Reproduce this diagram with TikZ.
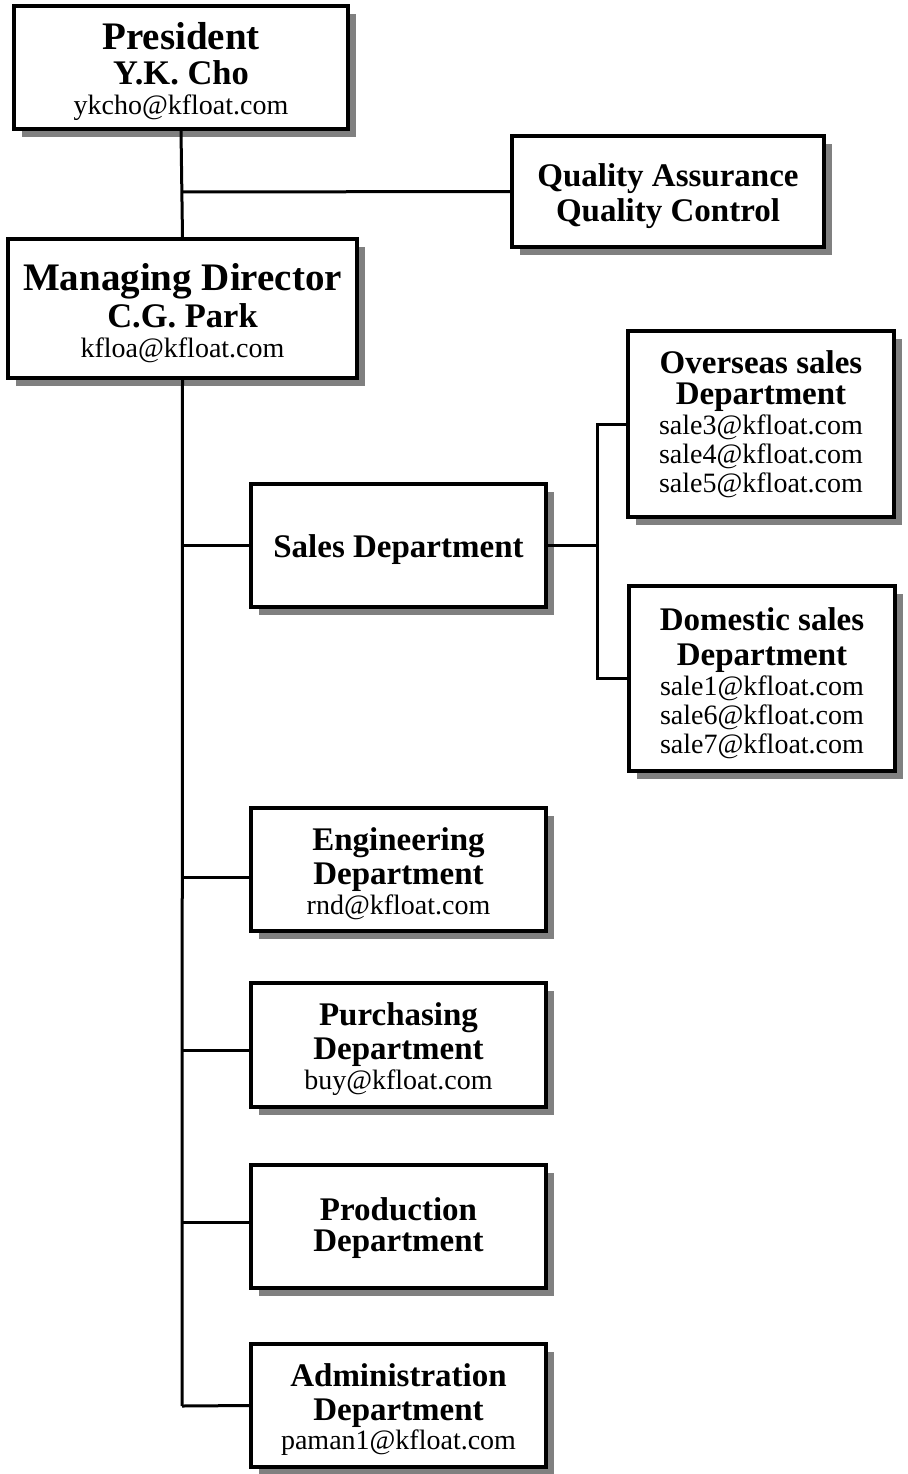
\documentclass[tikz,border=0pt]{standalone}
\usepackage{fontspec}
\setmainfont{Liberation Serif}
\usetikzlibrary{shadows}
\definecolor{shadowgray}{HTML}{808080}
\newcommand\fbig{\fontsize{39}{30}\selectfont\bfseries}
\newcommand\fmid{\fontsize{34.5}{30}\selectfont\bfseries}
\newcommand\ftitle{\fontsize{33}{30}\selectfont\bfseries}
\newcommand\fmail{\fontsize{28}{30}\selectfont\mdseries}
\newcommand\boxfont{\fontsize{28}{30}\selectfont}
% extra top padding: shifts the text block down by half the given amount
\newcommand\padtop[1][10pt]{\rule{0pt}{\dimexpr\fontcharht\font`\d+#1\relax}}
\lineskiplimit=-100pt
\lineskip=0pt
\begin{document}
\lineskiplimit=-100pt
\lineskip=0pt
\begin{tikzpicture}[x=1pt,y=-1pt,
  box/.style={draw, line width=3.5pt, fill=white, align=center, inner sep=0pt,
    font=\boxfont,
    general shadow={fill=shadowgray, shadow xshift=8pt, shadow yshift=-8pt}},
  link/.style={line width=3pt}]
\useasboundingbox (0,0) rectangle (907,1474);
\fill[white] (0,0) rectangle (907,1474);
\node[box, minimum width=334pt, minimum height=123pt] (pres) at (181,67.5)
  {\fbig\padtop President\\[5pt]\fmid Y.K. Cho\\\fmail ykcho@kfloat.com};
\node[box, minimum width=312pt, minimum height=111pt] (qa) at (668,191.5)
  {\ftitle\padtop Quality Assurance\\[5pt]\ftitle Quality Control};
\node[box, minimum width=349pt, minimum height=139pt] (md) at (182.5,308.5)
  {\fbig\padtop Managing Director\\[7pt]\fmid C.G. Park\\\fmail kfloa@kfloat.com};
\node[box, minimum width=295pt, minimum height=123pt] (sales) at (398.5,545.5)
  {\ftitle\padtop Sales Department};
\node[box, minimum width=266pt, minimum height=186pt] (over) at (761,424)
  {\ftitle Overseas sales\\[1pt]\ftitle Department\\\fmail sale3@kfloat.com\\[-1pt]\fmail sale4@kfloat.com\\[-1pt]\fmail sale5@kfloat.com};
\node[box, minimum width=266pt, minimum height=185pt] (dom) at (762,678.5)
  {\ftitle\padtop Domestic sales\\[5pt]\ftitle Department\\\fmail sale1@kfloat.com\\[-1pt]\fmail sale6@kfloat.com\\[-1pt]\fmail sale7@kfloat.com};
\node[box, minimum width=295pt, minimum height=123pt] (eng) at (398.5,869.5)
  {\ftitle\padtop Engineering\\[4pt]\ftitle Department\\\fmail rnd@kfloat.com};
\node[box, minimum width=295pt, minimum height=124pt] (pur) at (398.5,1045)
  {\ftitle\padtop Purchasing\\[4pt]\ftitle Department\\\fmail buy@kfloat.com};
\node[box, minimum width=295pt, minimum height=123pt] (prod) at (398.5,1226.5)
  {\ftitle\padtop[4pt]Production\\[1pt]\ftitle Department};
\node[box, minimum width=295pt, minimum height=123pt] (adm) at (398.5,1405.5)
  {\ftitle\padtop Administration\\[4pt]\ftitle Department\\[-1pt]\fmail paman1@kfloat.com};
% connectors
\coordinate (qaj) at (182,192);
\coordinate (trunkend) at (182,1406);
\coordinate (sj) at (597,545.5);
\coordinate (engj) at ([yshift=-7.5pt]eng.west);
\coordinate (purj) at ([yshift=-5pt]pur.west);
\coordinate (prodj) at ([yshift=4.5pt]prod.west);
\draw[link] (pres.south) -- (md.north);
\draw[link] (qaj) -- (qa.west);
\draw[link] (md.south) -- (trunkend);
\draw[link] (trunkend |- sales.west) -- (sales.west);
\draw[link] (trunkend |- engj) -- (engj);
\draw[link] (trunkend |- purj) -- (purj);
\draw[link] (trunkend |- prodj) -- (prodj);
\draw[link] (trunkend) -- (adm.west);
\draw[link] (sales.east) -- (sj);
\draw[link] (over.west) -| (sj) |- (dom.west);
\end{tikzpicture}
\end{document}
